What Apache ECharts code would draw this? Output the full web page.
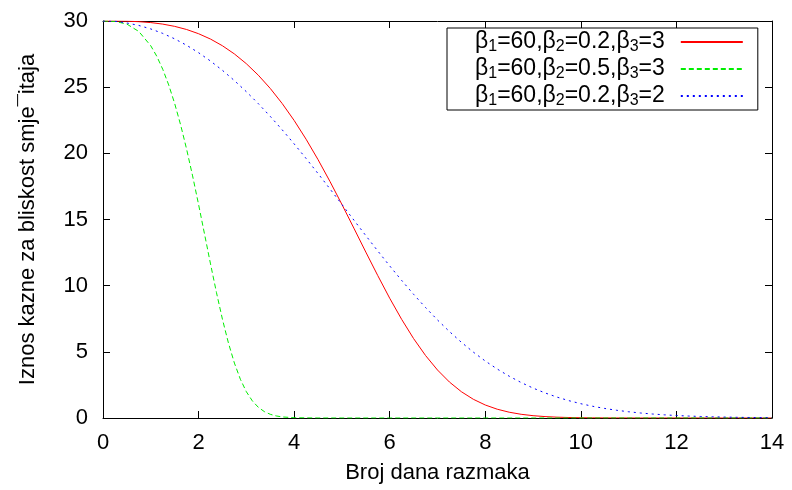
<!DOCTYPE html>
<html>
<head>
<meta charset="utf-8">
<script src="https://cdn.jsdelivr.net/npm/echarts@6/dist/echarts.min.js"></script>
<style>
  html, body { margin: 0; padding: 0; background: #fff; }
  #chart { width: 792px; height: 490px; }
</style>
</head>
<body>
<div id="chart"></div>
<script>
// Penalty curves for proximity of accommodation vs. number of days apart
const xDays = [0, 0.25, 0.5, 0.75, 1, 1.25, 1.5, 1.75, 2, 2.25, 2.5, 2.75, 3, 3.25, 3.5, 3.75, 4, 4.25, 4.5, 4.75, 5, 5.25, 5.5, 5.75, 6, 6.25, 6.5, 6.75, 7, 7.25, 7.5, 7.75, 8, 8.25, 8.5, 8.75, 9, 9.25, 9.5, 9.75, 10, 10.25, 10.5, 10.75, 11, 11.25, 11.5, 11.75, 12, 12.25, 12.5, 12.75, 13, 13.25, 13.5, 13.75, 14];
const redValues = [30, 29.998, 29.985, 29.949, 29.88, 29.766, 29.595, 29.357, 29.04, 28.634, 28.128, 27.51, 26.772, 25.906, 24.905, 23.764, 22.484, 21.067, 19.524, 17.873, 16.136, 14.345, 12.538, 10.76, 9.05, 7.453, 6.001, 4.721, 3.626, 2.717, 1.985, 1.414, 0.982, 0.664, 0.438, 0.281, 0.175, 0.107, 0.063, 0.036, 0.02, 0.011, 0.006, 0.003, 0.0014, 0.0007, 0.0003, 0.0001, 0, 0, 0, 0, 0, 0, 0, 0, 0];
const blueValues = [30, 29.981, 29.85, 29.663, 29.4, 29.063, 28.651, 28.165, 27.605, 26.973, 26.27, 25.497, 24.658, 23.755, 22.794, 21.778, 20.715, 19.611, 18.473, 17.312, 16.136, 14.956, 13.782, 12.623, 11.493, 10.397, 9.347, 8.348, 7.408, 6.532, 5.721, 4.979, 4.305, 3.7, 3.159, 2.681, 2.261, 1.896, 1.58, 1.309, 1.079, 0.884, 0.721, 0.584, 0.471, 0.377, 0.301, 0.239, 0.188, 0.148, 0.116, 0.09, 0.07, 0.053, 0.041, 0.031, 0.024];
const xDaysGreen = [0, 0.25, 0.5, 0.75, 1, 1.125, 1.25, 1.375, 1.5, 1.625, 1.75, 1.875, 2, 2.125, 2.25, 2.375, 2.5, 2.625, 2.75, 2.875, 3, 3.125, 3.25, 3.375, 3.5, 3.625, 3.75, 4, 4.5, 5, 6, 8, 10, 12, 14];
const greenValues = [30, 29.971, 29.766, 29.209, 28.127, 27.338, 26.356, 25.168, 23.764, 22.142, 20.311, 18.295, 16.136, 13.895, 11.644, 9.47, 7.453, 5.664, 4.15, 2.927, 1.985, 1.294, 0.81, 0.487, 0.281, 0.155, 0.082, 0.02, 0.0007, 0, 0, 0, 0, 0, 0];

const seriesNames = ['β1=60,β2=0.2,β3=3', 'β1=60,β2=0.5,β3=3', 'β1=60,β2=0.2,β3=2'];

const FONT = 'Liberation Sans, Arial, Helvetica, sans-serif';
const pairs = (xs, ys) => xs.map((x, i) => [x, ys[i]]);

const chart = echarts.init(document.getElementById('chart'), null, { renderer: 'canvas' });

const tickStyle = { show: true, inside: true, length: 7, lineStyle: { color: '#000', width: 1 } };
const axisLine = { show: true, onZero: false, lineStyle: { color: '#000', width: 1 } };

function lineSeries(name, data, color, type) {
  return {
    name: name,
    type: 'line',
    data: data,
    showSymbol: false,
    symbol: 'none',
    smooth: false,
    clip: true,
    lineStyle: { color: color, width: 1, type: type },
    itemStyle: { color: color },
    emphasis: { disabled: true }
  };
}

chart.setOption({
  animation: false,
  backgroundColor: '#fff',
  grid: { left: 103, right: 20, top: 21, bottom: 72, containLabel: false },
  xAxis: [{
    type: 'value', min: 0, max: 14, interval: 2, z: 3,
    axisLine: axisLine, axisTick: tickStyle, splitLine: { show: false },
    axisLabel: { color: '#000', fontFamily: FONT, fontSize: 22, margin: 14 },
    name: 'Broj dana razmaka', nameLocation: 'middle', nameGap: 44,
    nameTextStyle: { color: '#000', fontFamily: FONT, fontSize: 22 }
  }, {
    type: 'value', position: 'top', min: 0, max: 14, interval: 2, z: 3,
    axisLine: axisLine, axisTick: tickStyle, splitLine: { show: false },
    axisLabel: { show: false }
  }],
  yAxis: [{
    type: 'value', min: 0, max: 30, interval: 5, z: 3,
    axisLine: axisLine, axisTick: tickStyle, splitLine: { show: false },
    axisLabel: { color: '#000', fontFamily: FONT, fontSize: 22, margin: 15 },
    name: 'Iznos kazne za bliskost smje¯itaja', nameLocation: 'middle', nameGap: 64,
    nameTextStyle: { color: '#000', fontFamily: FONT, fontSize: 22 }
  }, {
    type: 'value', position: 'right', min: 0, max: 30, interval: 5, z: 3,
    axisLine: axisLine, axisTick: tickStyle, splitLine: { show: false },
    axisLabel: { show: false }
  }],
  legend: {
    orient: 'vertical',
    left: 447, top: 28,
    align: 'right',
    itemWidth: 62, itemHeight: 10, itemGap: 1,
    padding: [1, 14, 1, 28],
    borderColor: '#000', borderWidth: 1,
    backgroundColor: '#fff',
    selectedMode: false,
    itemStyle: { opacity: 0 },
    data: seriesNames,
    formatter: name => name.replace(/β(\d)/g, (m, d) => '{t|β}{s|' + d + '}').replace(/=([\d.]+)/g, '{t|=$1}'),
    textStyle: {
      color: '#000', fontFamily: FONT, fontSize: 23, padding: [0, 11, 0, 0],
      rich: {
        t: { fontFamily: FONT, fontSize: 23, color: '#000', lineHeight: 22 },
        s: { fontFamily: FONT, fontSize: 16, color: '#000', lineHeight: 22, padding: [10, 0, 0, 0] }
      }
    }
  },
  series: [
    lineSeries(seriesNames[0], pairs(xDays, redValues), '#ff0000', 'solid'),
    lineSeries(seriesNames[1], pairs(xDaysGreen, greenValues), '#00ee00', [5, 3]),
    lineSeries(seriesNames[2], pairs(xDays, blueValues), '#0000ff', [2, 4])
  ]
});
</script>
</body>
</html>
